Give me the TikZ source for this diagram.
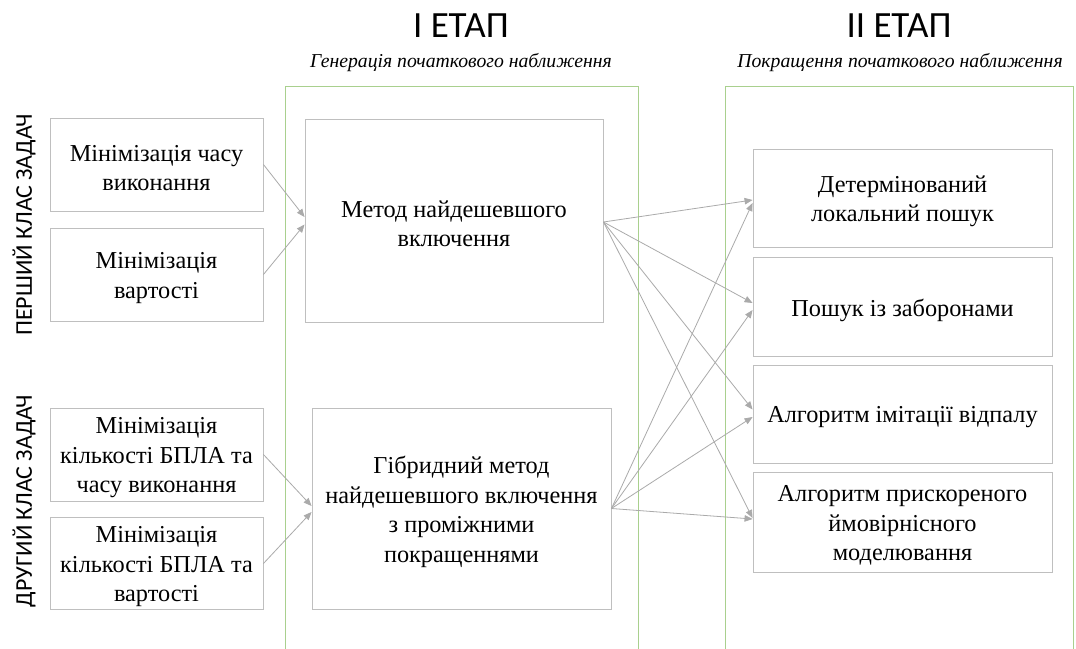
\documentclass[tikz,border=0pt]{standalone}
\usepackage{fontspec}
\setmainfont{Liberation Serif}
\newfontfamily\headfont{Carlito}
\usetikzlibrary{arrows.meta,calc}

\definecolor{boxline}{RGB}{191,191,191}
\definecolor{arrowline}{RGB}{170,170,170}
\definecolor{stageline}{RGB}{169,208,142}

\tikzset{
  task/.style={draw=boxline, line width=0.9pt, inner sep=0pt},
  tasktext/.style={align=center, inner sep=0pt, yshift=-3.5pt,
    font=\fontsize{24.3}{29.5}\selectfont},
  stageframe/.style={draw=stageline, line width=1pt},
  flow/.style={draw=arrowline, line width=0.8pt, -{Triangle[length=8pt,width=6.5pt]}},
  stagetitle/.style={anchor=base, font=\headfont\fontsize{37}{40}\selectfont},
  stagesub/.style={anchor=base, font=\itshape\fontsize{19.7}{22}\selectfont},
  classlabel/.style={rotate=90, font=\headfont\fontsize{24}{26}\selectfont}
}

\begin{document}
\begin{tikzpicture}[x=1pt, y=-1pt]
\useasboundingbox (0,0) rectangle (1076,648);
\fill[white] (0,0) rectangle (1076,648);

% stage frames, open at the bottom
\draw[stageframe] (285,660) -- (285,86) -- (638,86) -- (638,660);
\draw[stageframe] (725,660) -- (725,86) -- (1073,86) -- (1073,660);

% stage headings
\node[stagetitle] (t1) at (461,37) {I ЕТАП};
\node[stagetitle] (t2) at (899,37) {II ЕТАП};
\node[stagesub] (s1) at (461,67) {Генерація початкового наближення};
\node[stagesub] (s2) at (900,67) {Покращення початкового наближення};

% task classes
\node[classlabel] (c1) at (24,225) {ПЕРШИЙ КЛАС ЗАДАЧ};
\node[classlabel] (c2) at (24,501) {ДРУГИЙ КЛАС ЗАДАЧ};

% objectives
\node[task, minimum width=213pt, minimum height=93pt] (l1) at (156.5,164.5) {};
\node[task, minimum width=213pt, minimum height=93pt] (l2) at (156.5,274.5) {};
\node[task, minimum width=213pt, minimum height=93pt] (l3) at (156.5,454.5) {};
\node[task, minimum width=213pt, minimum height=92pt] (l4) at (156.5,563.5) {};
\node[tasktext] (l1t) at (l1.center) {Мінімізація часу\\виконання};
\node[tasktext] (l2t) at (l2.center) {Мінімізація\\вартості};
\node[tasktext] (l3t) at (l3.center) {Мінімізація\\кількості БПЛА та\\часу виконання};
\node[tasktext] (l4t) at (l4.center) {Мінімізація\\кількості БПЛА та\\вартості};

% initial approximation methods
\node[task, minimum width=298pt, minimum height=203pt] (m1) at (454,220.5) {};
\node[task, minimum width=299pt, minimum height=201pt] (m2) at (461.5,508.5) {};
\node[tasktext] (m1t) at (m1.center) {Метод найдешевшого\\включення};
\node[tasktext] (m2t) at (m2.center) {Гібридний метод\\найдешевшого включення\\з проміжними\\покращеннями};

% improvement algorithms
\node[task, minimum width=299pt, minimum height=98pt] (r1) at (902.5,198) {};
\node[task, minimum width=299pt, minimum height=99pt] (r2) at (902.5,306.5) {};
\node[task, minimum width=299pt, minimum height=98pt] (r3) at (902.5,414) {};
\node[task, minimum width=299pt, minimum height=100pt] (r4) at (902.5,522) {};
\node[tasktext] (r1t) at (r1.center) {Детермінований\\локальний пошук};
\node[tasktext] (r2t) at (r2.center) {Пошук із заборонами};
\node[tasktext] (r3t) at (r3.center) {Алгоритм імітації відпалу};
\node[tasktext] (r4t) at (r4.center) {Алгоритм прискореного\\ймовірнісного\\моделювання};

% objectives to methods
\draw[flow] (l1.east) -- ([yshift=3.5pt]m1.west);
\draw[flow] (l2.east) -- ([yshift=-4pt]m1.west);
\draw[flow] (l3.east) -- ([yshift=2.5pt]m2.west);
\draw[flow] (l4.east) -- ([yshift=-3.5pt]m2.west);

% methods to algorithms
\draw[flow] ([yshift=-1.5pt]m1.east) -- ([yshift=-2pt]r1.west);
\draw[flow] ([yshift=-1.5pt]m1.east) -- ([yshift=3.5pt]r2.west);
\draw[flow] ([yshift=-1.5pt]m1.east) -- ([yshift=4.5pt]r3.west);
\draw[flow] ([yshift=-1.5pt]m1.east) -- ([yshift=4pt]r4.west);
\draw[flow] (m2.east) -- ([yshift=-5pt]r1.west);
\draw[flow] (m2.east) -- ([yshift=-3.5pt]r2.west);
\draw[flow] (m2.east) -- ([yshift=-3pt]r3.west);
\draw[flow] (m2.east) -- ([yshift=3pt]r4.west);
\end{tikzpicture}
\end{document}
